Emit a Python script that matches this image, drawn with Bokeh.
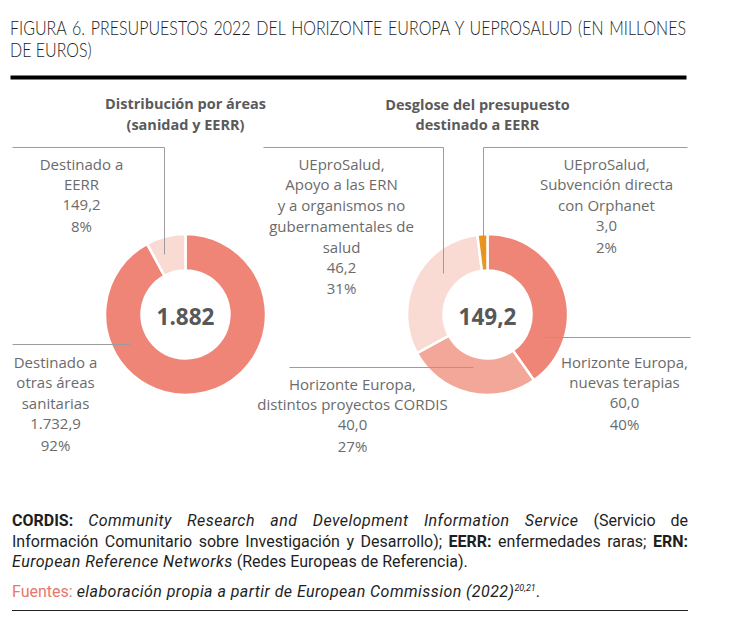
import math
from bokeh.plotting import figure
from bokeh.models import Range1d, Div, ColumnDataSource
from bokeh.layouts import column
from bokeh.core.properties import value
from bokeh.embed import file_html
from bokeh.resources import INLINE

# ---------------- data ----------------
title_lines = ["FIGURA 6. PRESUPUESTOS 2022 DEL HORIZONTE EUROPA Y UEPROSALUD (EN MILLONES",
               "DE EUROS)"]
left_subtitle = ["Distribución por áreas", "(sanidad y EERR)"]
right_subtitle = ["Desglose del presupuesto", "destinado a EERR"]

left_cats = ["Destinado a otras áreas sanitarias", "Destinado a EERR"]
left_vals = [1732.9, 149.2]
left_label_lines = [["Destinado a", "otras áreas", "sanitarias"], ["Destinado a", "EERR"]]

right_cats = ["Horizonte Europa, nuevas terapias",
              "Horizonte Europa, distintos proyectos CORDIS",
              "UEproSalud, Apoyo a las ERN y a organismos no gubernamentales de salud",
              "UEproSalud, Subvención directa con Orphanet"]
right_vals = [60.0, 40.0, 46.2, 3.0]
right_label_lines = [["Horizonte Europa,", "nuevas terapias"],
                     ["Horizonte Europa,", "distintos proyectos CORDIS"],
                     ["UEproSalud,", "Apoyo a las ERN", "y a organismos no", "gubernamentales de", "salud"],
                     ["UEproSalud,", "Subvención directa", "con Orphanet"]]

# ---------------- styles / layout ----------------
W = 728
H_TITLE, H_FIG, H_FOOT = 70, 430, 120
SALMON, MEDIUM, LIGHT, ORANGE = "#EF8577", "#F3A799", "#FADBD4", "#E8961F"
left_colors = [SALMON, LIGHT]
right_colors = [SALMON, MEDIUM, LIGHT, ORANGE]
LABEL_COLOR = "#6b6b6b"
LEADER_COLOR = "#9c9c9c"
FONT = "Open Sans"


def X(ix):
    return ix


def Y(iy):
    return 500 - iy


def es(v, d):
    s = f"{v:,.{d}f}"
    return s.replace(",", "#").replace(".", ",").replace("#", ".")


# title (condensed look via horizontal scaling, still real text)
SC = 0.82
tstyle = (f"width:{676 / SC:.1f}px;transform:scaleX({SC});transform-origin:0 0;"
          "font-family:Lato;font-weight:300;font-size:19.5px;line-height:22px;color:#1c1c1c;"
          "white-space:nowrap;")
title_html = (f'<div style="padding-top:17px;margin-left:10px;">'
              f'<div style="{tstyle}text-align:justify;text-align-last:justify;">{title_lines[0]}</div>'
              f'<div style="{tstyle}">{title_lines[1]}</div></div>')
title_div = Div(text=title_html, width=W, height=H_TITLE, margin=(0, 0, 0, 0))

p = figure(width=W, height=H_FIG, x_range=Range1d(0, W), y_range=Range1d(0, H_FIG),
           output_backend="svg", toolbar_location=None, min_border=0, margin=(0, 0, 0, 0))
p.axis.visible = False
p.grid.visible = False
p.outline_line_color = None
p.background_fill_color = "white"


def txt(x, y, t, size, color="#6b6b6b", style="normal", align="center", font=FONT):
    p.text(x=[X(x)], y=[Y(y)], text=[t], text_font=value(font), text_font_size=f"{size}px",
           text_color=color, text_font_style=style, text_align=align, text_baseline="middle")


p.line(x=[X(10), X(686)], y=[Y(77), Y(77)], line_width=4, line_color="black")

# subtitles
for i, t in enumerate(left_subtitle):
    txt(185, 103 + 21 * i, t, 14.5, color="#5a5a5a", style="bold")
for i, t in enumerate(right_subtitle):
    txt(477, 104 + 20 * i, t, 14.5, color="#5a5a5a", style="bold")


def donut(cx, cy, vals, colors):
    total = sum(vals)
    cum = 0.0
    starts, ends = [], []
    for v in vals:
        a0 = cum / total
        cum += v
        a1 = cum / total
        starts.append(math.pi / 2 - a1 * 2 * math.pi)
        ends.append(math.pi / 2 - a0 * 2 * math.pi)
    src = ColumnDataSource(dict(x=[X(cx)] * len(vals), y=[Y(cy)] * len(vals),
                                s=starts, e=ends, c=colors))
    p.annular_wedge(x="x", y="y", inner_radius=44, outer_radius=80.5, start_angle="s",
                    end_angle="e", fill_color="c", line_color="white", line_width=2.5,
                    source=src)
    return total


ltot = donut(185, 314, left_vals, left_colors)
rtot = donut(487, 314, right_vals, right_colors)

# leader lines
leaders = [[(12, 147), (164, 147), (164, 254)],
           [(12, 344), (130, 344)],
           [(263, 147), (443, 147), (443, 273)],
           [(687, 147), (483, 147), (483, 256)],
           [(545, 337), (690, 337)],
           [(289, 367), (473, 367)]]
for pts in leaders:
    p.line(x=[X(a) for a, b in pts], y=[Y(b) for a, b in pts], line_color=LEADER_COLOR,
           line_width=1)

# labels
STEP = 20.8
left_pos = [(55, 361), (81, 163)]
right_pos = [(624, 361), (352, 383), (341, 163), (606, 163)]
for lines, v, (lx, ly) in zip(left_label_lines, left_vals, left_pos):
    rows = lines + [es(v, 1), f"{round(v / ltot * 100)}%"]
    for i, t in enumerate(rows):
        txt(lx, ly + STEP * i, t, 15, color=LABEL_COLOR)
for lines, v, (lx, ly) in zip(right_label_lines, right_vals, right_pos):
    rows = lines + [es(v, 1), f"{round(v / rtot * 100)}%"]
    for i, t in enumerate(rows):
        txt(lx, ly + STEP * i, t, 15, color=LABEL_COLOR)

# centre totals
txt(185, 316, es(ltot, 0), 22.5, color="#585858", style="bold")
txt(487, 316, es(rtot, 1), 22.5, color="#585858", style="bold")

# footer
IT = 'style="letter-spacing:0.45px;"'
line_css = "white-space:nowrap;text-align:justify;text-align-last:justify;"
foot = f"""
<div style="width:676px;margin-left:12px;padding-top:11px;font-family:Roboto;font-size:16px;
line-height:20.5px;color:#1e1e1e;">
<div style="{line_css}"><b>CORDIS:</b> <i {IT}>Community Research and Development Information Service</i> (Servicio de</div>
<div style="{line_css}">Información Comunitario sobre Investigación y Desarrollo); <b>EERR:</b> enfermedades raras; <b>ERN:</b></div>
<div style="white-space:nowrap;"><i {IT}>European Reference Networks</i> (Redes Europeas de Referencia).</div>
<div style="white-space:nowrap;margin-top:5px;"><span style="color:#E8776C;">Fuentes:</span> <i {IT}>elaboración propia a partir de European Commission (2022)<sup style="font-size:9px;letter-spacing:0;">20,21</sup></i>.</div>
<div style="border-bottom:1px solid #222;margin-top:8px;"></div>
</div>
"""
div = Div(text=foot, width=W, height=H_FOOT, margin=(0, 0, 0, 0))

layout = column(title_div, p, div, spacing=0)
open("out.html", "w").write(file_html(layout, INLINE))
